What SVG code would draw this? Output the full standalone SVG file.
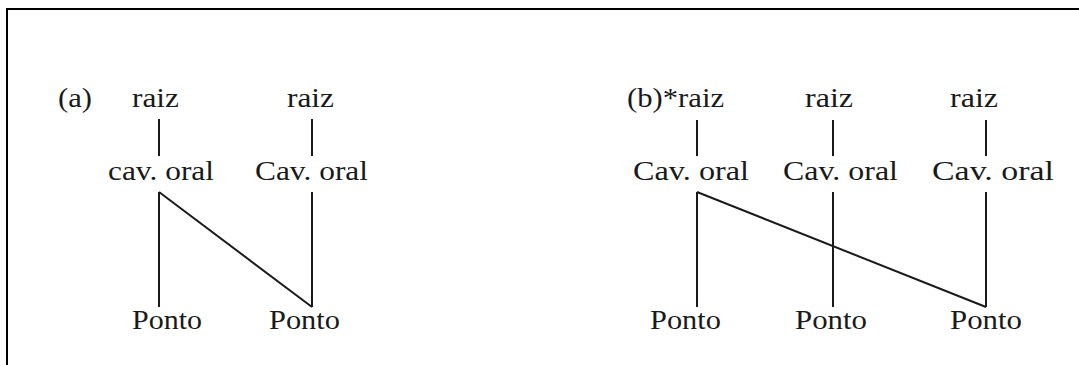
<svg xmlns="http://www.w3.org/2000/svg" width="1079" height="365" viewBox="0 0 1079 365">
  <style>
    .lbl { font-family: "Liberation Serif", "Times New Roman", serif; font-size: 28px; fill: #1a1a1a; }
    .edge { stroke: #1a1a1a; stroke-width: 2; fill: none; }
  </style>
  <rect width="1079" height="365" fill="#ffffff"/>
  <!-- frame, open on the right and bottom -->
  <rect x="7" y="9" width="1100" height="400" fill="none" stroke="#000" stroke-width="2"/>

  <g id="connectors">
    <!-- (a) -->
    <line class="edge" x1="159" y1="119" x2="159" y2="156"/>
    <line class="edge" x1="312" y1="119" x2="312" y2="156"/>
    <line class="edge" x1="159" y1="192" x2="159" y2="307"/>
    <line class="edge" x1="159" y1="192" x2="312" y2="307"/>
    <line class="edge" x1="312" y1="192" x2="312" y2="307"/>
    <!-- (b) -->
    <line class="edge" x1="697" y1="120" x2="697" y2="156"/>
    <line class="edge" x1="833" y1="120" x2="833" y2="156"/>
    <line class="edge" x1="986" y1="120" x2="986" y2="156"/>
    <line class="edge" x1="697" y1="192" x2="697" y2="307"/>
    <line class="edge" x1="697" y1="192" x2="986" y2="307"/>
    <line class="edge" x1="833" y1="192" x2="833" y2="307"/>
    <line class="edge" x1="986" y1="192" x2="986" y2="307"/>
  </g>

  <g id="label-a"><text class="lbl" x="58" y="107" textLength="34" lengthAdjust="spacingAndGlyphs">(a)</text></g>
  <g id="a-raiz-1"><text class="lbl" x="132" y="107" textLength="47" lengthAdjust="spacingAndGlyphs">raiz</text></g>
  <g id="a-raiz-2"><text class="lbl" x="287" y="107" textLength="47" lengthAdjust="spacingAndGlyphs">raiz</text></g>
  <g id="a-cav-1"><text class="lbl" x="108" y="180" textLength="106" lengthAdjust="spacingAndGlyphs">cav. oral</text></g>
  <g id="a-cav-2"><text class="lbl" x="255" y="180" textLength="113" lengthAdjust="spacingAndGlyphs">Cav. oral</text></g>
  <g id="a-ponto-1"><text class="lbl" x="132" y="329" textLength="70" lengthAdjust="spacingAndGlyphs">Ponto</text></g>
  <g id="a-ponto-2"><text class="lbl" x="269" y="329" textLength="71" lengthAdjust="spacingAndGlyphs">Ponto</text></g>

  <g id="b-raiz-1"><text class="lbl" x="627" y="107" textLength="97" lengthAdjust="spacingAndGlyphs">(b)*raiz</text></g>
  <g id="b-raiz-2"><text class="lbl" x="805" y="107" textLength="48" lengthAdjust="spacingAndGlyphs">raiz</text></g>
  <g id="b-raiz-3"><text class="lbl" x="950" y="107" textLength="48" lengthAdjust="spacingAndGlyphs">raiz</text></g>
  <g id="b-cav-1"><text class="lbl" x="633" y="180" textLength="116" lengthAdjust="spacingAndGlyphs">Cav. oral</text></g>
  <g id="b-cav-2"><text class="lbl" x="783" y="180" textLength="115" lengthAdjust="spacingAndGlyphs">Cav. oral</text></g>
  <g id="b-cav-3"><text class="lbl" x="932" y="180" textLength="122" lengthAdjust="spacingAndGlyphs">Cav. oral</text></g>
  <g id="b-ponto-1"><text class="lbl" x="650" y="329" textLength="71" lengthAdjust="spacingAndGlyphs">Ponto</text></g>
  <g id="b-ponto-2"><text class="lbl" x="795" y="329" textLength="72" lengthAdjust="spacingAndGlyphs">Ponto</text></g>
  <g id="b-ponto-3"><text class="lbl" x="950" y="329" textLength="72" lengthAdjust="spacingAndGlyphs">Ponto</text></g>
</svg>
